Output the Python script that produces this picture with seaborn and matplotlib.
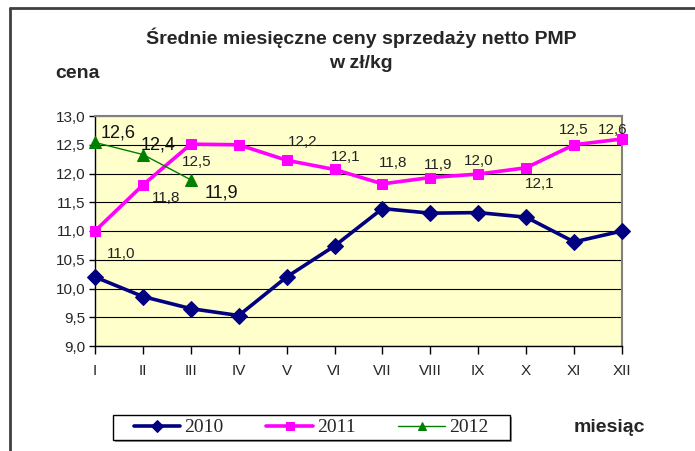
import numpy as np
import pandas as pd
import matplotlib
matplotlib.use("Agg")
import matplotlib.pyplot as plt
from matplotlib.patches import Rectangle
from matplotlib.lines import Line2D
from matplotlib.ticker import FuncFormatter
import seaborn as sns

# --- dane ---
miesiace = ["I", "II", "III", "IV", "V", "VI", "VII", "VIII", "IX", "X", "XI", "XII"]
ceny_2010 = [10.20, 9.86, 9.65, 9.53, 10.20, 10.74, 11.39, 11.31, 11.32, 11.24, 10.81, 11.00]
ceny_2011 = [11.00, 11.80, 12.51, 12.50, 12.23, 12.07, 11.82, 11.93, 11.99, 12.10, 12.50, 12.60]
ceny_2012 = [12.54, 12.33, 11.89]
etykiety_2011 = ["11,0", "11,8", "12,5", "", "12,2", "12,1", "11,8", "11,9", "12,0", "12,1", "12,5", "12,6"]
etykiety_2012 = ["12,6", "12,4", "11,9"]

# przesuniecia etykiet (piksele)
off_2011 = [(26, -23), (23, -13), (6, -18), (0, 0), (16, 18), (11, 12), (11, 21),
            (8, 13), (0, 13), (14, -16), (0, 15), (-9, 9)]
off_2012 = [(23, 9), (15, 10), (31, -13)]

sns.set_theme(style="white")
plt.rcParams['font.family'] = ['Liberation Sans', 'DejaVu Sans']

W, H = 695, 451
fig = plt.figure(figsize=(W / 100, H / 100), dpi=100)
ax = fig.add_axes([95 / W, 1 - 346 / H, (622 - 95) / W, (346 - 116) / H])
ax.set_facecolor("#FFFFCC")

x = np.arange(len(miesiace))
df10 = pd.DataFrame({"x": x, "cena": ceny_2010})
df11 = pd.DataFrame({"x": x, "cena": ceny_2011})
df12 = pd.DataFrame({"x": x[:len(ceny_2012)], "cena": ceny_2012})

sns.lineplot(data=df10, x="x", y="cena", ax=ax, color="#000080", lw=2.6,
             marker="D", markersize=8, markeredgecolor="#000080", label="2010", clip_on=False, zorder=4)
sns.lineplot(data=df11, x="x", y="cena", ax=ax, color="#FF00FF", lw=2.6,
             marker="s", markersize=7, markeredgecolor="#FF00FF", label="2011", clip_on=False, zorder=4)
sns.lineplot(data=df12, x="x", y="cena", ax=ax, color="#008000", lw=1.0,
             marker="^", markersize=8, markeredgecolor="#008000", label="2012", clip_on=False, zorder=5)

for xi, yi, t, (dx, dy) in zip(x, ceny_2011, etykiety_2011, off_2011):
    if t:
        ax.annotate(t, (xi, yi), xytext=(dx, dy), textcoords="offset pixels",
                    ha="center", va="center", fontsize=11, color="#222222", zorder=6)
for xi, yi, t, (dx, dy) in zip(x, ceny_2012, etykiety_2012, off_2012):
    ax.annotate(t, (xi, yi), xytext=(dx, dy), textcoords="offset pixels",
                ha="center", va="center", fontsize=13, color="#111111", zorder=6)

ax.set_xlim(0, 11)
ax.set_ylim(9.0, 13.0)
ax.set_yticks(np.arange(9.0, 13.01, 0.5))
ax.yaxis.set_major_formatter(FuncFormatter(lambda v, p: f"{v:.1f}".replace(".", ",")))
ax.set_xticks(x)
ax.set_xticklabels(miesiace)
ax.tick_params(axis="x", direction="out", length=6, width=1, color="#000000",
               labelsize=11, pad=7, bottom=True)
ax.tick_params(axis="y", direction="out", length=4, width=1, color="#000000",
               labelsize=11, pad=3, left=True)
ax.yaxis.grid(True, color="#000000", lw=0.8)
ax.set_axisbelow(True)
for side in ["left", "bottom"]:
    ax.spines[side].set_color("#000000")
    ax.spines[side].set_linewidth(1)
for side in ["top", "right"]:
    ax.spines[side].set_color("#808080")
    ax.spines[side].set_linewidth(1.5)
ax.set_xlabel("")
ax.set_ylabel("")

# legenda bez ramki + recznie rysowana ramka z cieniem (pod osiami)
leg = ax.legend(loc="center", bbox_to_anchor=(311 / W, 1 - 427.5 / H),
                bbox_transform=fig.transFigure, ncol=3, frameon=False, markerscale=0.75,
                prop={"family": "Liberation Serif", "size": 14}, handlelength=2.4,
                columnspacing=2.2, handletextpad=0.2, borderpad=0.1, borderaxespad=0)
fig.patches.append(Rectangle((115 / W, 1 - 442 / H), 397 / W, 25 / H, transform=fig.transFigure,
                             facecolor="#999999", edgecolor="none", figure=fig, zorder=-3))
fig.patches.append(Rectangle((113 / W, 1 - 440 / H), 397 / W, 25 / H, transform=fig.transFigure,
                             facecolor="white", edgecolor="black", lw=1, figure=fig, zorder=-2))

fig.text(361 / W, 1 - 38 / H, "Średnie miesięczne ceny sprzedaży netto PMP",
         ha="center", va="center", fontsize=14, fontweight="bold")
fig.text(361 / W, 1 - 63 / H, "w zł/kg", ha="center", va="center",
         fontsize=14, fontweight="bold")
fig.text(78 / W, 1 - 73 / H, "cena", ha="center", va="center",
         fontsize=14, fontweight="bold")
fig.text(609 / W, 1 - 428 / H, "miesiąc", ha="center", va="center",
         fontsize=14, fontweight="bold")

# ramka wykresu (przycieta z prawej i z dolu)
fig.lines.append(Line2D([10 / W, 1.0], [1 - 8 / H, 1 - 8 / H], transform=fig.transFigure,
                        color="#404040", lw=2, figure=fig))
fig.lines.append(Line2D([10 / W, 10 / W], [1 - 8 / H, 0.0], transform=fig.transFigure,
                        color="#404040", lw=2, figure=fig))

fig.savefig("out.png", dpi=100)
